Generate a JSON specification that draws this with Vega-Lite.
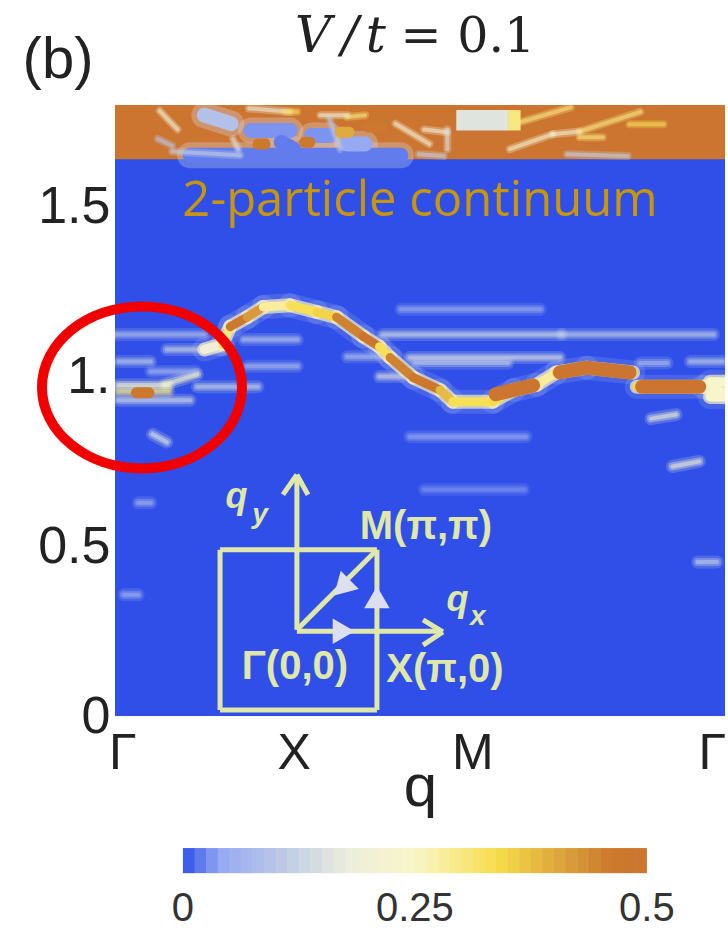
{
"$schema":"https://vega.github.io/schema/vega-lite/v6.json",
"width":610,"height":611,"autosize":"none",
"padding":{"left":115,"top":105,"right":3,"bottom":216},
"background":"white",
"config":{"view":{"stroke":null}},
"datasets":{
"cells":[
{"q0":0,"q1":3.414,"w0":0,"w1":1.8,"v":0},
{"q0":0,"q1":3.414,"w0":1.64,"w1":1.8,"v":0.5},
{"q0":1.91,"q1":2.2,"w0":1.725,"w1":1.785,"v":0.16},
{"q0":2.2,"q1":2.27,"w0":1.725,"w1":1.785,"v":0.3},
{"q0":0.38,"q1":0.448,"w0":-0.463,"w1":-0.389,"v":0.006},
{"q0":0.445,"q1":0.513,"w0":-0.463,"w1":-0.389,"v":0.019},
{"q0":0.51,"q1":0.578,"w0":-0.463,"w1":-0.389,"v":0.031},
{"q0":0.575,"q1":0.643,"w0":-0.463,"w1":-0.389,"v":0.044},
{"q0":0.64,"q1":0.708,"w0":-0.463,"w1":-0.389,"v":0.056},
{"q0":0.705,"q1":0.772,"w0":-0.463,"w1":-0.389,"v":0.069},
{"q0":0.769,"q1":0.837,"w0":-0.463,"w1":-0.389,"v":0.081},
{"q0":0.834,"q1":0.902,"w0":-0.463,"w1":-0.389,"v":0.094},
{"q0":0.899,"q1":0.967,"w0":-0.463,"w1":-0.389,"v":0.106},
{"q0":0.964,"q1":1.032,"w0":-0.463,"w1":-0.389,"v":0.119},
{"q0":1.029,"q1":1.097,"w0":-0.463,"w1":-0.389,"v":0.131},
{"q0":1.094,"q1":1.162,"w0":-0.463,"w1":-0.389,"v":0.144},
{"q0":1.159,"q1":1.227,"w0":-0.463,"w1":-0.389,"v":0.156},
{"q0":1.224,"q1":1.292,"w0":-0.463,"w1":-0.389,"v":0.169},
{"q0":1.289,"q1":1.357,"w0":-0.463,"w1":-0.389,"v":0.181},
{"q0":1.354,"q1":1.421,"w0":-0.463,"w1":-0.389,"v":0.194},
{"q0":1.418,"q1":1.486,"w0":-0.463,"w1":-0.389,"v":0.206},
{"q0":1.483,"q1":1.551,"w0":-0.463,"w1":-0.389,"v":0.219},
{"q0":1.548,"q1":1.616,"w0":-0.463,"w1":-0.389,"v":0.231},
{"q0":1.613,"q1":1.681,"w0":-0.463,"w1":-0.389,"v":0.244},
{"q0":1.678,"q1":1.746,"w0":-0.463,"w1":-0.389,"v":0.256},
{"q0":1.743,"q1":1.811,"w0":-0.463,"w1":-0.389,"v":0.269},
{"q0":1.808,"q1":1.876,"w0":-0.463,"w1":-0.389,"v":0.281},
{"q0":1.873,"q1":1.941,"w0":-0.463,"w1":-0.389,"v":0.294},
{"q0":1.938,"q1":2.006,"w0":-0.463,"w1":-0.389,"v":0.306},
{"q0":2.003,"q1":2.07,"w0":-0.463,"w1":-0.389,"v":0.319},
{"q0":2.067,"q1":2.135,"w0":-0.463,"w1":-0.389,"v":0.331},
{"q0":2.132,"q1":2.2,"w0":-0.463,"w1":-0.389,"v":0.344},
{"q0":2.197,"q1":2.265,"w0":-0.463,"w1":-0.389,"v":0.356},
{"q0":2.262,"q1":2.33,"w0":-0.463,"w1":-0.389,"v":0.369},
{"q0":2.327,"q1":2.395,"w0":-0.463,"w1":-0.389,"v":0.381},
{"q0":2.392,"q1":2.46,"w0":-0.463,"w1":-0.389,"v":0.394},
{"q0":2.457,"q1":2.525,"w0":-0.463,"w1":-0.389,"v":0.406},
{"q0":2.522,"q1":2.59,"w0":-0.463,"w1":-0.389,"v":0.419},
{"q0":2.587,"q1":2.655,"w0":-0.463,"w1":-0.389,"v":0.431},
{"q0":2.652,"q1":2.719,"w0":-0.463,"w1":-0.389,"v":0.444},
{"q0":2.716,"q1":2.784,"w0":-0.463,"w1":-0.389,"v":0.456},
{"q0":2.781,"q1":2.849,"w0":-0.463,"w1":-0.389,"v":0.469},
{"q0":2.846,"q1":2.914,"w0":-0.463,"w1":-0.389,"v":0.481},
{"q0":2.911,"q1":2.977,"w0":-0.463,"w1":-0.389,"v":0.494}
],
"cbarLabels":[
{"q":0.38,"w":-0.57,"t":"0"},
{"q":1.678,"w":-0.57,"t":"0.25"},
{"q":2.977,"w":-0.57,"t":"0.5"}
],
"bluePatch":[
{"q0":0.42,"q1":1.6,"w0":1.652,"w1":1.652,"v":0.02},
{"q0":0.76,"q1":0.98,"w0":1.725,"w1":1.725,"v":0.03},
{"q0":0.93,"q1":1.0,"w0":1.69,"w1":1.67,"v":0.02},
{"q0":1.1,"q1":1.2,"w0":1.71,"w1":1.71,"v":0.03},
{"q0":0.5,"q1":0.65,"w0":1.77,"w1":1.745,"v":0.09},
{"q0":1.3,"q1":1.4,"w0":1.685,"w1":1.685,"v":0.04}
],
"smear":[
{"q0":0,"q1":0.5,"w0":1.124,"w1":1.124,"v":0.08},
{"q0":0.72,"q1":1.02,"w0":1.109,"w1":1.109,"v":0.09},
{"q0":0.29,"q1":0.6,"w0":1.08,"w1":1.08,"v":0.12},
{"q0":0.02,"q1":0.2,"w0":1.044,"w1":1.044,"v":0.1},
{"q0":0.74,"q1":1.02,"w0":1.03,"w1":1.03,"v":0.07},
{"q0":0.2,"q1":0.45,"w0":1.015,"w1":1.015,"v":0.06},
{"q0":0.28,"q1":0.46,"w0":0.977,"w1":1.006,"v":0.24},
{"q0":0.46,"q1":0.8,"w0":0.97,"w1":0.97,"v":0.12},
{"q0":0.02,"q1":0.42,"w0":0.93,"w1":0.93,"v":0.13},
{"q0":0.02,"q1":0.3,"w0":0.956,"w1":0.956,"v":0.3},
{"q0":0.02,"q1":0.3,"w0":0.975,"w1":0.975,"v":0.24},
{"q0":1.3,"q1":1.48,"w0":1.058,"w1":1.058,"v":0.08},
{"q0":1.5,"q1":2.5,"w0":1.124,"w1":1.124,"v":0.13},
{"q0":2.5,"q1":3.35,"w0":1.124,"w1":1.124,"v":0.1},
{"q0":1.65,"q1":2.49,"w0":1.056,"w1":1.056,"v":0.14},
{"q0":1.68,"q1":2.2,"w0":1.04,"w1":1.04,"v":0.1},
{"q0":2.94,"q1":3.09,"w0":1.04,"w1":1.04,"v":0.08},
{"q0":3.22,"q1":3.4,"w0":1.044,"w1":1.044,"v":0.1},
{"q0":1.6,"q1":2.38,"w0":1.198,"w1":1.198,"v":0.05},
{"q0":1.48,"q1":1.6,"w0":1,"w1":1,"v":0.14},
{"q0":1.65,"q1":2.3,"w0":0.823,"w1":0.823,"v":0.04},
{"q0":1.73,"q1":2.29,"w0":0.667,"w1":0.667,"v":0.03},
{"q0":0.21,"q1":0.29,"w0":0.83,"w1":0.807,"v":0.16},
{"q0":3,"q1":3.14,"w0":0.876,"w1":0.888,"v":0.2},
{"q0":3.12,"q1":3.27,"w0":0.735,"w1":0.75,"v":0.2},
{"q0":3.26,"q1":3.37,"w0":0.454,"w1":0.454,"v":0.12},
{"q0":0.13,"q1":0.2,"w0":0.628,"w1":0.628,"v":0.06},
{"q0":0.05,"q1":0.13,"w0":0.357,"w1":0.357,"v":0.06}
],
"top":[
{"q0":0.25,"q1":0.35,"w0":1.783,"w1":1.728,"v":0.2},
{"q0":0.24,"q1":0.32,"w0":1.7,"w1":1.68,"v":0.1},
{"q0":0.32,"q1":0.7,"w0":1.663,"w1":1.652,"v":0.12},
{"q0":0.66,"q1":0.69,"w0":1.7,"w1":1.67,"v":0.15},
{"q0":0.75,"q1":0.98,"w0":1.79,"w1":1.78,"v":0.18},
{"q0":0.95,"q1":1.02,"w0":1.78,"w1":1.78,"v":0.33},
{"q0":1.15,"q1":1.3,"w0":1.77,"w1":1.77,"v":0.2},
{"q0":1.3,"q1":1.4,"w0":1.765,"w1":1.77,"v":0.3},
{"q0":1.2,"q1":1.26,"w0":1.76,"w1":1.67,"v":0.1},
{"q0":1.57,"q1":1.76,"w0":1.745,"w1":1.685,"v":0.2},
{"q0":1.73,"q1":1.86,"w0":1.728,"w1":1.72,"v":0.2},
{"q0":1.86,"q1":1.86,"w0":1.728,"w1":1.67,"v":0.15},
{"q0":1.7,"q1":1.84,"w0":1.655,"w1":1.65,"v":0.12},
{"q0":2.27,"q1":2.55,"w0":1.75,"w1":1.793,"v":0.3},
{"q0":2.21,"q1":2.45,"w0":1.67,"w1":1.714,"v":0.22},
{"q0":2.45,"q1":2.6,"w0":1.714,"w1":1.722,"v":0.22},
{"q0":2.6,"q1":2.94,"w0":1.722,"w1":1.78,"v":0.3},
{"q0":2.6,"q1":2.73,"w0":1.705,"w1":1.705,"v":0.3},
{"q0":2.88,"q1":3.07,"w0":1.743,"w1":1.743,"v":0.33},
{"q0":2.53,"q1":2.87,"w0":1.655,"w1":1.65,"v":0.12}
],
"dots":[
{"q0":0.12,"q1":0.19,"w0":0.952,"w1":0.952,"v":0.47},
{"q0":0.8,"q1":0.84,"w0":1.685,"w1":1.685,"v":0.47},
{"q0":1.06,"q1":1.09,"w0":1.69,"w1":1.69,"v":0.47},
{"q0":1.42,"q1":1.5,"w0":1.735,"w1":1.735,"v":0.48},
{"q0":1.26,"q1":1.31,"w0":1.72,"w1":1.72,"v":0.4}
],
"ovals":[
{"q0":2.13,"q1":2.34,"w0":0.948,"w1":0.974,"v":0.5},
{"q0":2.49,"q1":2.64,"w0":1.012,"w1":1.026,"v":0.5},
{"q0":2.64,"q1":2.88,"w0":1.026,"w1":1.012,"v":0.5},
{"q0":2.95,"q1":3.27,"w0":0.97,"w1":0.97,"v":0.5}
],
"curve":[
{"q0":0.5,"q1":0.6,"w0":1.08,"w1":1.095,"v":0.2},
{"q0":0.6,"q1":0.645,"w0":1.095,"w1":1.147,"v":0.3},
{"q0":0.645,"q1":0.74,"w0":1.147,"w1":1.175,"v":0.48},
{"q0":0.74,"q1":0.83,"w0":1.175,"w1":1.205,"v":0.42},
{"q0":0.83,"q1":0.98,"w0":1.205,"w1":1.21,"v":0.28},
{"q0":0.98,"q1":1.13,"w0":1.21,"w1":1.19,"v":0.33},
{"q0":1.13,"q1":1.24,"w0":1.19,"w1":1.175,"v":0.35},
{"q0":1.24,"q1":1.39,"w0":1.175,"w1":1.118,"v":0.45},
{"q0":1.39,"q1":1.48,"w0":1.118,"w1":1.088,"v":0.5},
{"q0":1.48,"q1":1.54,"w0":1.088,"w1":1.056,"v":0.33},
{"q0":1.54,"q1":1.67,"w0":1.056,"w1":0.997,"v":0.45},
{"q0":1.67,"q1":1.82,"w0":0.997,"w1":0.96,"v":0.47},
{"q0":1.82,"q1":1.89,"w0":0.96,"w1":0.926,"v":0.38},
{"q0":1.89,"q1":2.115,"w0":0.926,"w1":0.926,"v":0.33},
{"q0":2.115,"q1":2.23,"w0":0.926,"w1":0.96,"v":0.34},
{"q0":2.23,"q1":2.36,"w0":0.96,"w1":0.976,"v":0.34},
{"q0":2.36,"q1":2.47,"w0":0.976,"w1":1.012,"v":0.28},
{"q0":2.47,"q1":2.64,"w0":1.012,"w1":1.026,"v":0.34},
{"q0":2.64,"q1":2.9,"w0":1.026,"w1":1.012,"v":0.34},
{"q0":2.92,"q1":3.29,"w0":0.97,"w1":0.97,"v":0.34},
{"q0":3.29,"q1":3.414,"w0":0.97,"w1":0.952,"v":0.25},
{"q0":3.33,"q1":3.414,"w0":0.94,"w1":0.94,"v":0.24},
{"q0":3.33,"q1":3.414,"w0":0.985,"w1":0.985,"v":0.24}
],
"inset":[
{"q0":0.588,"q1":1.466,"w0":0.018,"w1":0.018},
{"q0":0.588,"q1":1.466,"w0":0.49,"w1":0.49},
{"q0":0.588,"q1":0.588,"w0":0.018,"w1":0.49},
{"q0":1.466,"q1":1.466,"w0":0.018,"w1":0.49},
{"q0":1.018,"q1":1.018,"w0":0.254,"w1":0.702},
{"q0":1.018,"q1":1.824,"w0":0.25,"w1":0.25},
{"q0":1.018,"q1":1.466,"w0":0.254,"w1":0.49},
{"q0":1.018,"q1":0.94,"w0":0.711,"w1":0.652},
{"q0":1.018,"q1":1.08,"w0":0.711,"w1":0.652},
{"q0":1.835,"q1":1.724,"w0":0.248,"w1":0.283},
{"q0":1.835,"q1":1.724,"w0":0.248,"w1":0.209}
],
"insetText":[
{"q":1.74,"w":0.557,"t":"M(π,π)"},
{"q":1.007,"w":0.144,"t":"Γ(0,0)"},
{"q":1.847,"w":0.135,"t":"X(π,0)"}
],
"insetSym":[
{"q":0.68,"w":0.645,"t":"q"},
{"q":1.917,"w":0.342,"t":"q"}
],
"insetSub":[
{"q":0.812,"w":0.592,"t":"y"},
{"q":2.03,"w":0.292,"t":"x"}
],
"ellipse":[{"q":0.151,"w":0.968}],
"label":[{"q":1.707,"w":1.516,"t":"2-particle continuum"}],
"panel":[{"q":-0.319,"w":1.93,"t":"(b)"}],
"titleI":[{"q":1.108,"w":2,"t":"V"},{"q":1.315,"w":2,"t":"/"},{"q":1.46,"w":2,"t":"t"}],
"titleR":[{"q":1.975,"w":2,"t":"= 0.1"}],
"triR":[{"q":1.28,"w":0.25}],
"triU":[{"q":1.466,"w":0.35}],
"triD":[{"q":1.27,"w":0.378}]
},
"layer":[
{"data":{"name":"cells"},"mark":{"type":"rect"},
"encoding":{
"x":{"field":"q0","type":"quantitative","scale":{"domain":[0,3.414],"nice":false,"zero":false},
"axis":{"values":[0.04,1,2,3.34],"labelExpr":"datum.value==1?'X':datum.value==2?'M':'Γ'","title":"q","domain":false,"ticks":false,"grid":false,"labelFontSize":50,"labelFont":"Liberation Sans","labelColor":"#222222","labelPadding":12,"titleFont":"Liberation Sans","titleFontSize":60,"titleFontWeight":"normal","titleColor":"#222222","titlePadding":-20,"labelOverlap":false,"labelFlush":false}},
"x2":{"field":"q1"},
"y":{"field":"w0","type":"quantitative","scale":{"domain":[0,1.8],"nice":false,"zero":false},
"axis":{"values":[0,0.5,1,1.5],"labelExpr":"datum.value==0?'0':datum.value==1?'1.':format(datum.value,'.1f')","title":null,"domain":false,"ticks":false,"grid":false,"labelFontSize":52,"labelFont":"Liberation Sans","labelColor":"#222222","labelPadding":5,"labelOverlap":false,"labelFlush":false}},
"y2":{"field":"w1"},
"color":{"field":"v","type":"quantitative",
"scale":{"domain":[0,0.04,0.12,0.18,0.25,0.34,0.42,0.46,0.5],"range":["#2f4fe8","#96a9f2","#c5d0e4","#eeeedd","#f8f6c8","#f7dc4a","#d89a3a","#cc7a2c","#cc7530"],"interpolate":"rgb"},
"legend":null}
}},
{"data":{"name":"cbarLabels"},"mark":{"type":"text","font":"Liberation Sans","fontSize":40,"color":"#333333"},
"encoding":{"x":{"field":"q","type":"quantitative"},"y":{"field":"w","type":"quantitative"},"text":{"field":"t"}}},
{"data":{"name":"bluePatch"},"mark":{"type":"rule","strokeWidth":26,"opacity":0.3,"strokeCap":"round","clip":true},
"encoding":{"x":{"field":"q0","type":"quantitative"},"x2":{"field":"q1"},"y":{"field":"w0","type":"quantitative"},"y2":{"field":"w1"},"color":{"value":"#d8ddee"}}},
{"data":{"name":"bluePatch"},"mark":{"type":"rule","strokeWidth":15,"strokeCap":"round","clip":true},
"encoding":{"x":{"field":"q0","type":"quantitative"},"x2":{"field":"q1"},"y":{"field":"w0","type":"quantitative"},"y2":{"field":"w1"},"color":{"field":"v","type":"quantitative","legend":null}}},
{"data":{"name":"smear"},"mark":{"type":"rule","strokeWidth":13,"opacity":0.2,"strokeCap":"round","clip":true},
"encoding":{"x":{"field":"q0","type":"quantitative"},"x2":{"field":"q1"},"y":{"field":"w0","type":"quantitative"},"y2":{"field":"w1"},"color":{"field":"v","type":"quantitative","legend":null}}},
{"data":{"name":"smear"},"mark":{"type":"rule","strokeWidth":8,"opacity":0.35,"strokeCap":"round","clip":true},
"encoding":{"x":{"field":"q0","type":"quantitative"},"x2":{"field":"q1"},"y":{"field":"w0","type":"quantitative"},"y2":{"field":"w1"},"color":{"field":"v","type":"quantitative","legend":null}}},
{"data":{"name":"smear"},"mark":{"type":"rule","strokeWidth":4,"opacity":0.5,"strokeCap":"round","clip":true},
"encoding":{"x":{"field":"q0","type":"quantitative"},"x2":{"field":"q1"},"y":{"field":"w0","type":"quantitative"},"y2":{"field":"w1"},"color":{"field":"v","type":"quantitative","legend":null}}},
{"data":{"name":"top"},"mark":{"type":"rule","strokeWidth":8,"opacity":0.3,"strokeCap":"round","clip":true},
"encoding":{"x":{"field":"q0","type":"quantitative"},"x2":{"field":"q1"},"y":{"field":"w0","type":"quantitative"},"y2":{"field":"w1"},"color":{"field":"v","type":"quantitative","legend":null}}},
{"data":{"name":"top"},"mark":{"type":"rule","strokeWidth":4,"opacity":0.55,"strokeCap":"round","clip":true},
"encoding":{"x":{"field":"q0","type":"quantitative"},"x2":{"field":"q1"},"y":{"field":"w0","type":"quantitative"},"y2":{"field":"w1"},"color":{"field":"v","type":"quantitative","legend":null}}},
{"data":{"name":"curve"},"mark":{"type":"rule","strokeWidth":24,"opacity":0.2,"color":"#a9b8f2","strokeCap":"round","clip":true},
"encoding":{"x":{"field":"q0","type":"quantitative"},"x2":{"field":"q1"},"y":{"field":"w0","type":"quantitative"},"y2":{"field":"w1"}}},
{"data":{"name":"curve"},"mark":{"type":"rule","strokeWidth":14,"opacity":0.7,"color":"#f6efc0","strokeCap":"round","clip":true},
"encoding":{"x":{"field":"q0","type":"quantitative"},"x2":{"field":"q1"},"y":{"field":"w0","type":"quantitative"},"y2":{"field":"w1"}}},
{"data":{"name":"curve"},"mark":{"type":"rule","strokeWidth":9,"strokeCap":"round","clip":true},
"encoding":{"x":{"field":"q0","type":"quantitative"},"x2":{"field":"q1"},"y":{"field":"w0","type":"quantitative"},"y2":{"field":"w1"},"color":{"field":"v","type":"quantitative","legend":null}}},
{"data":{"name":"ovals"},"mark":{"type":"rule","strokeWidth":14,"strokeCap":"round","clip":true},
"encoding":{"x":{"field":"q0","type":"quantitative"},"x2":{"field":"q1"},"y":{"field":"w0","type":"quantitative"},"y2":{"field":"w1"},"color":{"field":"v","type":"quantitative","legend":null}}},
{"data":{"name":"dots"},"mark":{"type":"rule","strokeWidth":11,"strokeCap":"round","clip":true},
"encoding":{"x":{"field":"q0","type":"quantitative"},"x2":{"field":"q1"},"y":{"field":"w0","type":"quantitative"},"y2":{"field":"w1"},"color":{"field":"v","type":"quantitative","legend":null}}},
{"data":{"name":"inset"},"mark":{"type":"rule","strokeWidth":5,"color":"#dfe8a8"},
"encoding":{"x":{"field":"q0","type":"quantitative"},"x2":{"field":"q1"},"y":{"field":"w0","type":"quantitative"},"y2":{"field":"w1"}}},
{"data":{"name":"triR"},"mark":{"type":"point","shape":"triangle-right","filled":true,"size":650,"color":"#dcdff0","opacity":1},
"encoding":{"x":{"field":"q","type":"quantitative"},"y":{"field":"w","type":"quantitative"}}},
{"data":{"name":"triU"},"mark":{"type":"point","shape":"triangle-up","filled":true,"size":650,"color":"#dcdff0","opacity":1},
"encoding":{"x":{"field":"q","type":"quantitative"},"y":{"field":"w","type":"quantitative"}}},
{"data":{"name":"triD"},"mark":{"type":"point","shape":"triangle-up","filled":true,"size":650,"color":"#dcdff0","opacity":1,"angle":225},
"encoding":{"x":{"field":"q","type":"quantitative"},"y":{"field":"w","type":"quantitative"}}},
{"data":{"name":"insetText"},"mark":{"type":"text","font":"Liberation Sans","fontWeight":"bold","fontSize":40,"color":"#dfe8a8"},
"encoding":{"x":{"field":"q","type":"quantitative"},"y":{"field":"w","type":"quantitative"},"text":{"field":"t"}}},
{"data":{"name":"insetSym"},"mark":{"type":"text","font":"Liberation Sans","fontStyle":"italic","fontWeight":"bold","fontSize":36,"color":"#dfe8a8"},
"encoding":{"x":{"field":"q","type":"quantitative"},"y":{"field":"w","type":"quantitative"},"text":{"field":"t"}}},
{"data":{"name":"insetSub"},"mark":{"type":"text","font":"Liberation Sans","fontStyle":"italic","fontWeight":"bold","fontSize":28,"color":"#dfe8a8"},
"encoding":{"x":{"field":"q","type":"quantitative"},"y":{"field":"w","type":"quantitative"},"text":{"field":"t"}}},
{"data":{"name":"label"},"mark":{"type":"text","font":"Open Sans","fontSize":49,"color":"#c8960c"},
"encoding":{"x":{"field":"q","type":"quantitative"},"y":{"field":"w","type":"quantitative"},"text":{"field":"t"}}},
{"data":{"name":"panel"},"mark":{"type":"text","font":"Liberation Sans","fontSize":58,"color":"#222222"},
"encoding":{"x":{"field":"q","type":"quantitative"},"y":{"field":"w","type":"quantitative"},"text":{"field":"t"}}},
{"data":{"name":"titleI"},"mark":{"type":"text","font":"DejaVu Serif","fontStyle":"italic","fontSize":50,"color":"#222222"},
"encoding":{"x":{"field":"q","type":"quantitative"},"y":{"field":"w","type":"quantitative"},"text":{"field":"t"}}},
{"data":{"name":"titleR"},"mark":{"type":"text","font":"DejaVu Serif","fontSize":49,"color":"#222222"},
"encoding":{"x":{"field":"q","type":"quantitative"},"y":{"field":"w","type":"quantitative"},"text":{"field":"t"}}},
{"data":{"name":"ellipse"},"mark":{"type":"point","shape":"M-1,0A1,0.81,0,1,1,1,0A1,0.81,0,1,1,-1,0Z","size":40000,"filled":false,"strokeWidth":10,"color":"#f00000","opacity":1},
"encoding":{"x":{"field":"q","type":"quantitative"},"y":{"field":"w","type":"quantitative"}}}
]
}
